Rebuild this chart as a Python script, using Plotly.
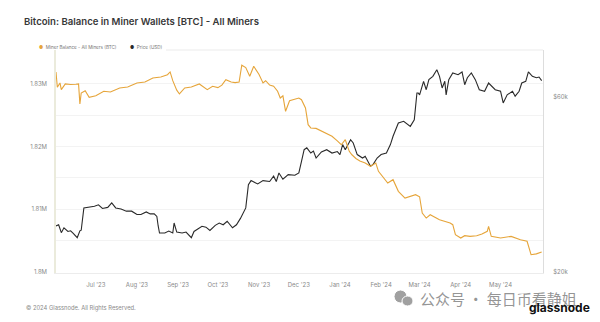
import plotly.graph_objects as go

# --- Miner balance (BTC), all miners ---
balance_dates = [
    "2023-06-01", "2023-06-02", "2023-06-04", "2023-06-05", "2023-06-08", "2023-06-12",
    "2023-06-16", "2023-06-18", "2023-06-19", "2023-06-20", "2023-06-23", "2023-06-26",
    "2023-07-01", "2023-07-07", "2023-07-12", "2023-07-19", "2023-07-25", "2023-08-01",
    "2023-08-07", "2023-08-13", "2023-08-19", "2023-08-24", "2023-08-26", "2023-08-28",
    "2023-08-31", "2023-09-02", "2023-09-06", "2023-09-11", "2023-09-17", "2023-09-20",
    "2023-09-23", "2023-09-27", "2023-10-01", "2023-10-04", "2023-10-07", "2023-10-11",
    "2023-10-14", "2023-10-17", "2023-10-19", "2023-10-22", "2023-10-25", "2023-10-28",
    "2023-11-01", "2023-11-04", "2023-11-06", "2023-11-09", "2023-11-12", "2023-11-15",
    "2023-11-17", "2023-11-19", "2023-11-21", "2023-11-24", "2023-11-29", "2023-12-01",
    "2023-12-03", "2023-12-06", "2023-12-08", "2023-12-10", "2023-12-14", "2023-12-18",
    "2023-12-22", "2023-12-26", "2023-12-30", "2024-01-02", "2024-01-05", "2024-01-08",
    "2024-01-10", "2024-01-13", "2024-01-16", "2024-01-20", "2024-01-24", "2024-01-28",
    "2024-01-30", "2024-02-03", "2024-02-06", "2024-02-10", "2024-02-14", "2024-02-19",
    "2024-02-23", "2024-02-27", "2024-03-01", "2024-03-03", "2024-03-06", "2024-03-09",
    "2024-03-16", "2024-03-20", "2024-03-24", "2024-03-26", "2024-03-28", "2024-04-01",
    "2024-04-04", "2024-04-08", "2024-04-13", "2024-04-17", "2024-04-21", "2024-04-22",
    "2024-04-24", "2024-05-01", "2024-05-09", "2024-05-16", "2024-05-21", "2024-05-24",
    "2024-05-28", "2024-06-01",
]
balance_btc = [
    1831900, 1829460, 1830150, 1829080, 1829990, 1829900,
    1829950, 1829990, 1826800, 1828550, 1828920, 1827860,
    1828100, 1828820, 1828700, 1829350, 1829500, 1830150,
    1830300, 1830940, 1831100, 1831470, 1831900, 1830510,
    1829000, 1828390, 1829350, 1829500, 1829990, 1829600,
    1829080, 1829620, 1829400, 1829800, 1830670, 1830300,
    1830200, 1830300, 1832970, 1832600, 1831210, 1832810,
    1831500, 1830150, 1830500, 1829800, 1829620, 1828820,
    1827750, 1828100, 1825630, 1827300, 1827600, 1827750,
    1827480, 1826160, 1823490, 1822970, 1822900, 1822440,
    1822000, 1821640, 1820900, 1820300, 1821100, 1819250,
    1818700, 1818100, 1817700, 1817390, 1816860, 1817390,
    1816060, 1815000, 1814200, 1814730, 1812870, 1811800,
    1812070, 1812330, 1812000, 1809400, 1808610, 1809140,
    1808340, 1808080, 1807820, 1807550, 1805950, 1805420,
    1805800, 1805690, 1805800, 1806060, 1806500, 1807290,
    1805690, 1805420, 1805690, 1805150, 1804900, 1802760,
    1802900, 1803190,
]

# --- BTC price (USD) ---
price_dates = [
    "2023-06-01", "2023-06-03", "2023-06-05", "2023-06-07", "2023-06-10", "2023-06-12",
    "2023-06-14", "2023-06-17", "2023-06-19", "2023-06-20", "2023-06-22", "2023-06-26",
    "2023-06-30", "2023-07-03", "2023-07-06", "2023-07-10", "2023-07-13", "2023-07-16",
    "2023-07-20", "2023-07-24", "2023-07-28", "2023-08-01", "2023-08-04", "2023-08-08",
    "2023-08-11", "2023-08-14", "2023-08-16", "2023-08-17", "2023-08-18", "2023-08-22",
    "2023-08-25", "2023-08-28", "2023-08-29", "2023-08-31", "2023-09-04", "2023-09-07",
    "2023-09-11", "2023-09-13", "2023-09-15", "2023-09-19", "2023-09-22", "2023-09-25",
    "2023-09-29", "2023-10-02", "2023-10-05", "2023-10-08", "2023-10-12", "2023-10-15",
    "2023-10-18", "2023-10-20", "2023-10-22", "2023-10-24", "2023-10-26", "2023-10-31",
    "2023-11-04", "2023-11-09", "2023-11-12", "2023-11-14", "2023-11-16", "2023-11-19",
    "2023-11-23", "2023-11-28", "2023-12-01", "2023-12-03", "2023-12-05", "2023-12-07",
    "2023-12-10", "2023-12-12", "2023-12-14", "2023-12-18", "2023-12-22", "2023-12-26",
    "2023-12-30", "2024-01-01", "2024-01-03", "2024-01-05", "2024-01-09", "2024-01-11",
    "2024-01-14", "2024-01-18", "2024-01-20", "2024-01-24", "2024-01-26", "2024-01-29",
    "2024-02-01", "2024-02-05", "2024-02-08", "2024-02-10", "2024-02-14", "2024-02-18",
    "2024-02-21", "2024-02-23", "2024-02-26", "2024-02-28", "2024-02-29", "2024-03-01",
    "2024-03-04", "2024-03-06", "2024-03-08", "2024-03-11", "2024-03-14", "2024-03-16",
    "2024-03-18", "2024-03-20", "2024-03-21", "2024-03-23", "2024-03-26", "2024-03-30",
    "2024-04-02", "2024-04-04", "2024-04-06", "2024-04-09", "2024-04-12", "2024-04-15",
    "2024-04-19", "2024-04-22", "2024-04-27", "2024-05-01", "2024-05-03", "2024-05-06",
    "2024-05-10", "2024-05-12", "2024-05-15", "2024-05-17", "2024-05-20", "2024-05-22",
    "2024-05-25", "2024-05-28", "2024-05-30", "2024-06-01",
]
price_usd = [
    26700, 26900, 25600, 26400, 25800, 25900,
    25500, 24800, 25900, 26000, 29900, 30000,
    30200, 30500, 29800, 30000, 30850, 29900,
    29700, 29300, 29300, 28700, 28700, 29150,
    28800, 28800, 28350, 26700, 25550, 25550,
    25850, 25550, 27200, 25700, 25550, 25700,
    24800, 25800, 26100, 26650, 26500, 25950,
    26800, 27200, 26900, 27500, 26400, 26900,
    28000, 28950, 29900, 34600, 35500, 34750,
    35500, 35300, 36500, 35300, 37250, 35800,
    36850, 36700, 37250, 40050, 43100, 43600,
    42200, 42700, 40900, 42500, 43100, 42200,
    42600, 41800, 44500, 43100, 45900, 44950,
    41800, 40900, 41350, 38850, 39300, 40900,
    41800, 42200, 44500, 46900, 50950, 51500,
    50400, 49900, 52000, 61500, 61500, 60800,
    66200, 62800, 66900, 68300, 71200, 68300,
    63500, 66200, 60800, 66900, 69750, 69000,
    70200, 64800, 67700, 69750, 66900, 62800,
    62200, 65500, 62800, 62200, 57800, 60800,
    62200, 60300, 62200, 65500, 66200, 70200,
    68300, 67700, 68000, 66500,
]

# --- Axis ticks ---
month_ticks = [
    "2023-07-01", "2023-08-01", "2023-09-01", "2023-10-01", "2023-11-01", "2023-12-01",
    "2024-01-01", "2024-02-01", "2024-03-01", "2024-04-01", "2024-05-01",
]
month_labels = [
    "Jul '23", "Aug '23", "Sep '23", "Oct '23", "Nov '23", "Dec '23",
    "Jan '24", "Feb '24", "Mar '24", "Apr '24", "May '24",
]
balance_ticks = [1800000, 1805000, 1810000, 1815000, 1820000, 1825000, 1830000]
balance_labels = ["1.8M", "", "1.81M", "", "1.82M", "", "1.83M"]
price_ticks = [20000, 60000]
price_labels = ["$20k", "$60k"]

ORANGE = "#E6A53A"
BLACK = "#2a2a2a"
TICK_GRAY = "#8a8a8a"
FONT = "Inter"

fig = go.Figure()

# Price sits on the primary (right, log) axis so the balance line draws above it
fig.add_trace(go.Scatter(
    x=price_dates, y=price_usd, mode="lines", name="Price (USD)",
    line=dict(color=BLACK, width=1.1), yaxis="y",
))
fig.add_trace(go.Scatter(
    x=balance_dates, y=balance_btc, mode="lines", name="Miner Balance - All Miners (BTC)",
    line=dict(color=ORANGE, width=1.1), yaxis="y2",
))

W, H = 600, 322
L, R, T, B = 56, 57, 50, 49
pw, ph = W - L - R, H - T - B


def px(x):
    return (x - L) / pw


def py(y):
    return (H - B - y) / ph


fig.update_layout(
    width=W, height=H,
    margin=dict(l=L, r=R, t=T, b=B, pad=0),
    paper_bgcolor="white", plot_bgcolor="white",
    showlegend=False,
    font=dict(family=FONT, color=TICK_GRAY, size=6),
    title=dict(
        text="Bitcoin: Balance in Miner Wallets [BTC] - All Miners",
        x=24 / W, y=1 - 22 / H, xanchor="left", yanchor="middle",
        font=dict(family=FONT, size=9.6, color="#383838", weight=600),
    ),
    xaxis=dict(
        type="date", range=["2023-06-01", "2024-06-02"],
        tickvals=month_ticks, ticktext=month_labels,
        showgrid=False, zeroline=False,
        showline=True, linecolor="#ececec", linewidth=1,
        ticks="", ticklabelstandoff=6,
        tickfont=dict(size=6, color=TICK_GRAY),
    ),
    yaxis=dict(
        type="log", side="right",
        range=[4.2983, 4.9062],
        tickvals=price_ticks, ticktext=price_labels,
        showgrid=False, zeroline=False,
        showline=True, linecolor="#dddddd", linewidth=1,
        ticks="", ticklabelstandoff=8,
        tickfont=dict(size=6, color=TICK_GRAY),
    ),
    yaxis2=dict(
        overlaying="y", side="left",
        range=[1799850, 1835400],
        tickvals=balance_ticks, ticktext=balance_labels,
        showgrid=True, gridcolor="#f3f3f3", gridwidth=1,
        zeroline=False,
        showline=True, linecolor="#ebebdc", linewidth=1.5,
        ticks="", ticklabelstandoff=6,
        tickfont=dict(size=6, color=TICK_GRAY),
    ),
)

# Legend row along the top edge of the plot
fig.add_annotation(
    xref="paper", yref="paper", x=px(37), y=py(48), xanchor="left", yanchor="middle",
    text=f'<span style="color:{ORANGE}">●</span>  Miner Balance - All Miners (BTC)',
    showarrow=False, font=dict(family=FONT, size=4.6, color="#777777"),
)
fig.add_annotation(
    xref="paper", yref="paper", x=px(128), y=py(48), xanchor="left", yanchor="middle",
    text=f'<span style="color:{BLACK}">●</span>  Price (USD)',
    showarrow=False, font=dict(family=FONT, size=4.6, color="#777777"),
)
fig.add_shape(
    type="line", xref="paper", yref="paper", x0=px(166), x1=1, y0=1, y1=1,
    line=dict(color="#ebebeb", width=1),
)

# Footer
fig.add_annotation(
    xref="paper", yref="paper", x=px(24), y=py(308), xanchor="left", yanchor="middle",
    text="© 2024 Glassnode. All Rights Reserved.",
    showarrow=False, font=dict(family=FONT, size=5.8, color="#8a8a8a"),
)

# Watermark with chat-bubble icon
fig.add_shape(
    type="circle", xref="paper", yref="paper",
    x0=px(394), x1=px(407), y0=py(303), y1=py(290),
    fillcolor="#a0a0a0", line=dict(color="white", width=1),
)
fig.add_shape(
    type="circle", xref="paper", yref="paper",
    x0=px(402), x1=px(413), y0=py(306), y1=py(296),
    fillcolor="#a0a0a0", line=dict(color="white", width=1),
)
fig.add_annotation(
    xref="paper", yref="paper", x=px(418), y=py(298), xanchor="left", yanchor="middle",
    text="公众号 · 每日币看静姐",
    showarrow=False, font=dict(family="Noto Sans CJK SC", size=15, color="rgba(130,130,130,0.85)"),
)
fig.add_annotation(
    xref="paper", yref="paper", x=px(592), y=py(307), xanchor="right", yanchor="middle",
    text="<b>glassnode</b>",
    showarrow=False, font=dict(family=FONT, size=12, color="#111111"),
)

fig.write_html("out.html")
